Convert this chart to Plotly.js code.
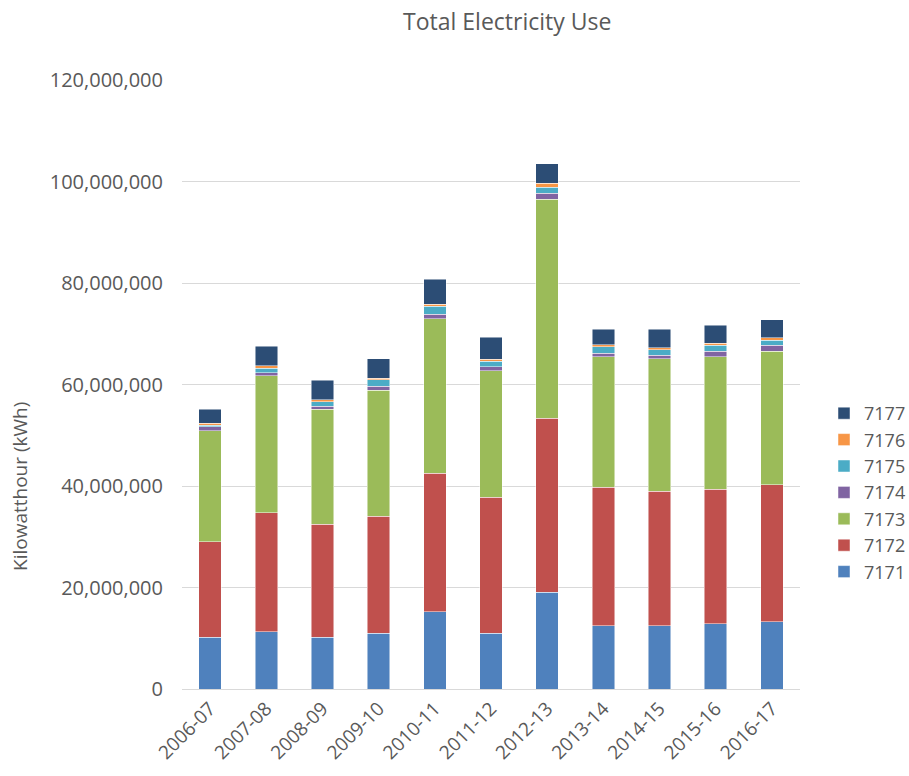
<!DOCTYPE html>
<html>
<head>
<meta charset="utf-8">
<script src="https://cdn.plot.ly/plotly-3.0.1.min.js"></script>
<style>html,body{margin:0;padding:0;background:#fff;}#chart{width:909px;height:776px;}</style>
</head>
<body>
<div id="chart"></div>
<script>
const years = ["2006-07","2007-08","2008-09","2009-10","2010-11","2011-12","2012-13","2013-14","2014-15","2015-16","2016-17"];
const s7171 = [10200000,11300000,10200000,11000000,15200000,11000000,19100000,12500000,12500000,12900000,13300000];
const s7172 = [18800000,23400000,22300000,23000000,27300000,26800000,34300000,27300000,26500000,26500000,26900000];
const s7173 = [21900000,27000000,22600000,24900000,30500000,24900000,43100000,25700000,26100000,26100000,26400000];
const s7174 = [800000,650000,650000,800000,850000,800000,1200000,650000,650000,1100000,1100000];
const s7175 = [300000,850000,850000,1200000,1600000,1100000,1200000,1300000,1100000,1100000,1050000];
const s7176 = [400000,450000,350000,350000,400000,400000,800000,350000,400000,400000,500000];
const s7177 = [2700000,3900000,3900000,3800000,4900000,4300000,3800000,3100000,3600000,3600000,3500000];
const seriesNames = ["7171","7172","7173","7174","7175","7176","7177"];
const seriesData = [s7171,s7172,s7173,s7174,s7175,s7176,s7177];
const colors = ["#4F81BD","#C0504D","#9BBB59","#8064A2","#4BACC6","#F79646","#2C4D75"];

const traces = seriesNames.map((n,i)=>({
  type:"bar", name:n, x:years, y:seriesData[i],
  marker:{color:colors[i], line:{color:"rgba(255,255,255,0.6)", width:0.8}},
  hoverinfo:"x+y+name"
}));

const font = "'Open Sans', sans-serif";
const layout = {
  width:909, height:776,
  paper_bgcolor:"#fff", plot_bgcolor:"#fff",
  barmode:"stack", bargap:0.6,
  margin:{l:182, r:109, t:80, b:87},
  font:{family:font, color:"#595959", size:20},
  title:{text:"Total Electricity Use", x:0.558, xref:"container", xanchor:"center",
         y:0.972, yref:"container", yanchor:"middle",
         font:{family:font, size:23, color:"#595959"}},
  xaxis:{type:"category", tickangle:-45, showgrid:false, showline:true, linecolor:"#D9D9D9", linewidth:1,
         ticks:"", tickfont:{size:19, color:"#595959"}, automargin:false},
  yaxis:{range:[0,120000000], dtick:20000000, tickformat:",d", showgrid:true, gridcolor:"#D9D9D9",
         zeroline:false, showline:false, ticks:"", ticklen:0, ticklabelstandoff:18,
         tickfont:{size:20, color:"#595959"}, automargin:false},
  annotations:[{text:"Kilowatthour (kWh)", xref:"paper", yref:"paper",
                x:(20-182)/618, y:(689-487)/609, xanchor:"center", yanchor:"middle",
                textangle:-90, showarrow:false, font:{size:19, color:"#595959"}}],
  legend:{xref:"container", yref:"container", x:824/909, xanchor:"left", y:1-395/776, yanchor:"top",
          traceorder:"reversed", font:{size:18, color:"#595959"}, itemwidth:30, tracegroupgap:0,
          bgcolor:"rgba(0,0,0,0)"},
  showlegend:true
};
Plotly.newPlot("chart", traces, layout, {displayModeBar:false, staticPlot:true});
</script>
</body>
</html>
